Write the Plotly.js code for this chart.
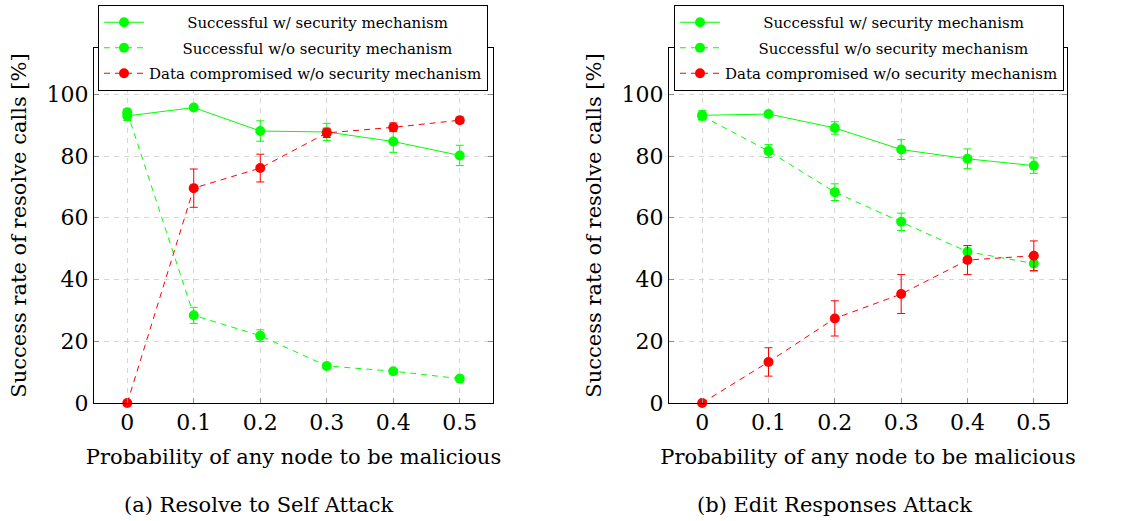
<!DOCTYPE html>
<html>
<head>
<meta charset="utf-8">
<script src="https://cdn.plot.ly/plotly-3.0.1.min.js"></script>
<style>html,body{margin:0;padding:0;background:#fff;}#chart{width:1121px;height:521px;}</style>
</head>
<body>
<div id="chart"></div>
<script>
// ---- data ----
const probs = [0, 0.1, 0.2, 0.3, 0.4, 0.5];
const tickLabels = ["0", "0.1", "0.2", "0.3", "0.4", "0.5"];
const yTicks = [0, 20, 40, 60, 80, 100];
const seriesNames = ["Successful w/ security mechanism", "Successful w/o security mechanism", "Data compromised w/o security mechanism"];

// (a) Resolve to Self Attack
const selfWith = [93.0, 95.7, 88.1, 87.8, 84.7, 80.2];
const selfWithErr = [1.5, 0.6, 3.3, 2.8, 3.5, 3.3];
const selfWithout = [94.2, 28.4, 21.8, 12.0, 10.3, 7.9];
const selfWithoutErr = [1.0, 2.6, 1.9, 0.9, 0.8, 0.7];
const selfComp = [0, 69.6, 76.1, 87.5, 89.3, 91.6];
const selfCompErr = [0.3, 6.2, 4.5, 1.5, 1.4, 1.0];

// (b) Edit Responses Attack
const editWith = [93.2, 93.6, 89.1, 82.1, 79.1, 76.9];
const editWithErr = [1.5, 0.8, 2.0, 3.2, 3.2, 2.5];
const editWithout = [93.0, 81.6, 68.3, 58.7, 49.0, 45.2];
const editWithoutErr = [1.2, 2.1, 2.7, 2.8, 2.0, 2.5];
const editComp = [0, 13.3, 27.4, 35.3, 46.3, 47.7];
const editCompErr = [0.3, 4.6, 5.7, 6.3, 4.7, 4.8];

const captions = ["(a) Resolve to Self Attack", "(b) Edit Responses Attack"];
const xTitle = "Probability of any node to be malicious";
const yTitle = "Success rate of resolve calls [%]";

// ---- styling ----
const FONT = "DejaVu Serif";
const GREEN = "#00ff00", RED = "#ff0000";
const NB = "\u00A0";
const pads = [8, 7, 0];
function padName(i){ return NB.repeat(pads[i]) + seriesNames[i]; }

function mk(y, err, idx, color, dash, xa, ya, legend){
  return {
    x: probs, y: y, type: "scatter", mode: "lines+markers",
    name: padName(idx), legend: legend, legendgroup: legend + "g" + idx,
    xaxis: xa, yaxis: ya,
    line: {color: color, width: 1, dash: dash},
    marker: {color: color, size: 10, symbol: "circle"},
    error_y: {type: "data", array: err, visible: true, color: color, thickness: 1, width: 4},
    cliponaxis: false
  };
}
const DASH = "6px,5px";
const traces = [
  mk(selfWith, selfWithErr, 0, GREEN, "solid", "x", "y", "legend"),
  mk(selfWithout, selfWithoutErr, 1, GREEN, DASH, "x", "y", "legend"),
  mk(selfComp, selfCompErr, 2, RED, DASH, "x", "y", "legend"),
  mk(editWith, editWithErr, 0, GREEN, "solid", "x2", "y2", "legend2"),
  mk(editWithout, editWithoutErr, 1, GREEN, DASH, "x2", "y2", "legend2"),
  mk(editComp, editCompErr, 2, RED, DASH, "x2", "y2", "legend2")
];

const W = 1121, H = 521;
const yDom = [(H - 403) / H, (H - 48) / H];
function xax(dom){
  return {
    domain: dom, range: [-0.05, 0.55], tickvals: probs, ticktext: tickLabels,
    showgrid: true, gridcolor: "#d6d6d6", griddash: "5px,5px", gridwidth: 1,
    zeroline: false, showline: true, linecolor: "#000", linewidth: 1, mirror: "all",
    ticks: "inside", ticklen: 5, tickcolor: "#8a8a8a",
    tickfont: {family: FONT, size: 22, color: "#000"},
    title: {text: xTitle, font: {family: FONT, size: 21, color: "#000"}, standoff: 14},
    fixedrange: true
  };
}
function yax(anchor){
  return {
    domain: yDom, range: [0, 115], tickvals: yTicks, anchor: anchor,
    showgrid: true, gridcolor: "#d6d6d6", griddash: "5px,5px", gridwidth: 1,
    zeroline: false, showline: true, linecolor: "#000", linewidth: 1, mirror: "all",
    ticks: "inside", ticklen: 5, tickcolor: "#8a8a8a",
    tickfont: {family: FONT, size: 22, color: "#000"},
    title: {text: yTitle, font: {family: FONT, size: 21, color: "#000"}, standoff: 14},
    fixedrange: true
  };
}
function leg(x){
  return {
    x: x, y: 1 - 5 / H, xanchor: "left", yanchor: "top",
    bgcolor: "#fff", bordercolor: "#000", borderwidth: 1,
    font: {family: FONT, size: 15, color: "#000"},
    tracegroupgap: 3, itemwidth: 40
  };
}

const layout = {
  width: W, height: H, margin: {l: 0, r: 0, t: 0, b: 0},
  paper_bgcolor: "#fff", plot_bgcolor: "#fff", showlegend: true,
  font: {family: FONT},
  xaxis: Object.assign(xax([94 / W, 493 / W]), {anchor: "y"}),
  yaxis: yax("x"),
  xaxis2: Object.assign(xax([669 / W, 1067 / W]), {anchor: "y2"}),
  yaxis2: yax("x2"),
  legend: leg(98 / W),
  legend2: leg(674 / W),
  annotations: [
    {text: captions[0], xref: "paper", yref: "paper", x: 259 / W, y: (H - 505) / H, xanchor: "center", yanchor: "middle", showarrow: false, font: {family: FONT, size: 21, color: "#000"}},
    {text: captions[1], xref: "paper", yref: "paper", x: 834 / W, y: (H - 505) / H, xanchor: "center", yanchor: "middle", showarrow: false, font: {family: FONT, size: 21, color: "#000"}}
  ]
};

Plotly.newPlot("chart", traces, layout, {displayModeBar: false, staticPlot: true});
</script>
</body>
</html>
